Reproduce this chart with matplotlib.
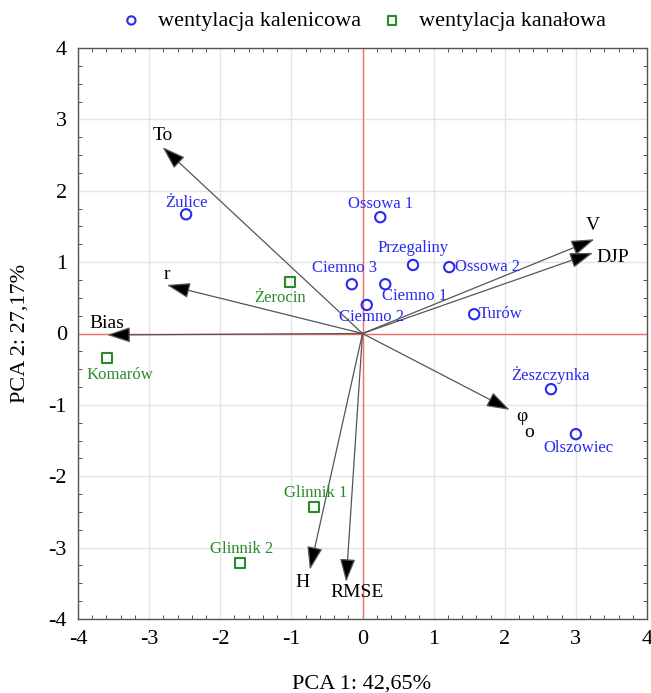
import matplotlib
matplotlib.use("Agg")
import matplotlib.pyplot as plt
from matplotlib.ticker import MultipleLocator

plt.rcParams['font.family'] = ['Liberation Serif', 'DejaVu Serif']
plt.rcParams['axes.unicode_minus'] = False

# ---- data ----
kal_names = ["Żulice", "Ossowa 1", "Przegaliny", "Ossowa 2", "Ciemno 3",
             "Ciemno 1", "Ciemno 2", "Turów", "Żeszczynka", "Olszowiec"]
kal_x = [-2.48, 0.25, 0.71, 1.22, -0.15, 0.32, 0.06, 1.57, 2.65, 3.00]
kal_y = [1.67, 1.63, 0.96, 0.93, 0.69, 0.69, 0.40, 0.27, -0.78, -1.41]

kan_names = ["Żerocin", "Komarów", "Glinnik 1", "Glinnik 2"]
kan_x = [-1.02, -3.59, -0.68, -1.72]
kan_y = [0.72, -0.34, -2.43, -3.22]

var_names = ["To", "r", "Bias", "V", "DJP", "φo", "H", "RMSE"]
var_x = [-2.81, -2.75, -3.59, 3.26, 3.24, 2.07, -0.74, -0.23]
var_y = [2.61, 0.68, -0.02, 1.32, 1.13, -1.07, -3.31, -3.48]

x_label = "PCA 1: 42,65%"
y_label = "PCA 2: 27,17%"
legend_labels = ["wentylacja kalenicowa", "wentylacja kanałowa"]

# ---- label placement (pixel offsets, +y up) ----
kal_off = {"Żulice": (0, 11, 'center'), "Ossowa 1": (0, 13, 'center'),
           "Przegaliny": (0, 17, 'center'), "Ossowa 2": (6, 0, 'left'),
           "Ciemno 3": (-7, 16, 'center'), "Ciemno 1": (-3, -12, 'left'),
           "Ciemno 2": (5, -12, 'center'), "Turów": (5, 0, 'left'),
           "Żeszczynka": (0, 14, 'center'), "Olszowiec": (3, -14, 'center')}
kan_off = {"Żerocin": (-10, -16, 'center'), "Komarów": (13, -17, 'center'),
           "Glinnik 1": (1, 14, 'center'), "Glinnik 2": (1, 14, 'center')}
var_off = {"To": (0, 12), "r": (0, 10), "Bias": (0, 11), "V": (-2, 14),
           "DJP": (20, -5), "H": (-7, -13), "RMSE": (11, -11)}

blue = '#2a2aee'
green = '#2a8a2a'

fig = plt.figure(figsize=(6.51, 6.93), dpi=100)
ax = fig.add_axes([78/651, 1-619/693, (647-78)/651, (619-48)/693])

ax.set_xlim(-4, 4)
ax.set_ylim(-4, 4)
ax.xaxis.set_major_locator(MultipleLocator(1))
ax.yaxis.set_major_locator(MultipleLocator(1))
ax.xaxis.set_minor_locator(MultipleLocator(0.2))
ax.yaxis.set_minor_locator(MultipleLocator(0.25))
ax.grid(True, which='major', color='#e4e4e4', lw=1)
ax.set_axisbelow(True)
ax.tick_params(which='both', direction='in', top=True, right=True,
               labelsize=16, colors='#333333', labelcolor='black')
ax.tick_params(which='major', length=0, pad=8)
ax.tick_params(which='minor', length=3)
for s in ax.spines.values():
    s.set_color('#555555')
    s.set_linewidth(1)

ax.axhline(0, color='#f07070', lw=1, zorder=1)
ax.axvline(0, color='#f07070', lw=1, zorder=1)

# arrows
for n, vx, vy in zip(var_names, var_x, var_y):
    ax.annotate('', xy=(vx, vy), xytext=(0, 0),
                arrowprops=dict(arrowstyle='-|>,head_length=1.2,head_width=0.4',
                                color='#555555', lw=0.9, shrinkA=0, shrinkB=0,
                                mutation_scale=12, fc='black', ec='#555555'),
                zorder=3)
for n, vx, vy in zip(var_names, var_x, var_y):
    if n == "φo":
        ax.annotate("φ", (vx, vy), xytext=(12, -7), textcoords='offset pixels',
                    ha='center', va='center', fontsize=14, zorder=5)
        ax.annotate("o", (vx, vy), xytext=(19, -23), textcoords='offset pixels',
                    ha='center', va='center', fontsize=14, zorder=5)
    else:
        dx, dy = var_off[n]
        ax.annotate(n, (vx, vy), xytext=(dx, dy), textcoords='offset pixels',
                    ha='center', va='center', fontsize=14, zorder=5)

# points
ax.scatter(kal_x, kal_y, s=55, marker='o', facecolors='none', edgecolors=blue,
           linewidths=1.5, zorder=4, label=legend_labels[0])
ax.scatter(kan_x, kan_y, s=55, marker='s', facecolors='none', edgecolors=green,
           linewidths=1.5, zorder=4, label=legend_labels[1])

for n, px, py in zip(kal_names, kal_x, kal_y):
    dx, dy, ha = kal_off[n]
    ax.annotate(n, (px, py), xytext=(dx, dy), textcoords='offset pixels',
                ha=ha, va='center', fontsize=12, color=blue, zorder=5)
for n, px, py in zip(kan_names, kan_x, kan_y):
    dx, dy, ha = kan_off[n]
    ax.annotate(n, (px, py), xytext=(dx, dy), textcoords='offset pixels',
                ha=ha, va='center', fontsize=12, color=green, zorder=5)

fig.text(362/651, 1-684/693, x_label, ha='center', va='center', fontsize=16)
fig.text(20/651, 1-333/693, y_label, ha='center', va='center', fontsize=16,
         rotation=90)

fig.legend(loc='center', bbox_to_anchor=(362/651, 1-21/693), ncol=2,
           frameon=False, fontsize=16, handletextpad=0.6, columnspacing=0.8,
           handlelength=1.2, markerscale=0.8)

fig.savefig('out.png', dpi=100)
